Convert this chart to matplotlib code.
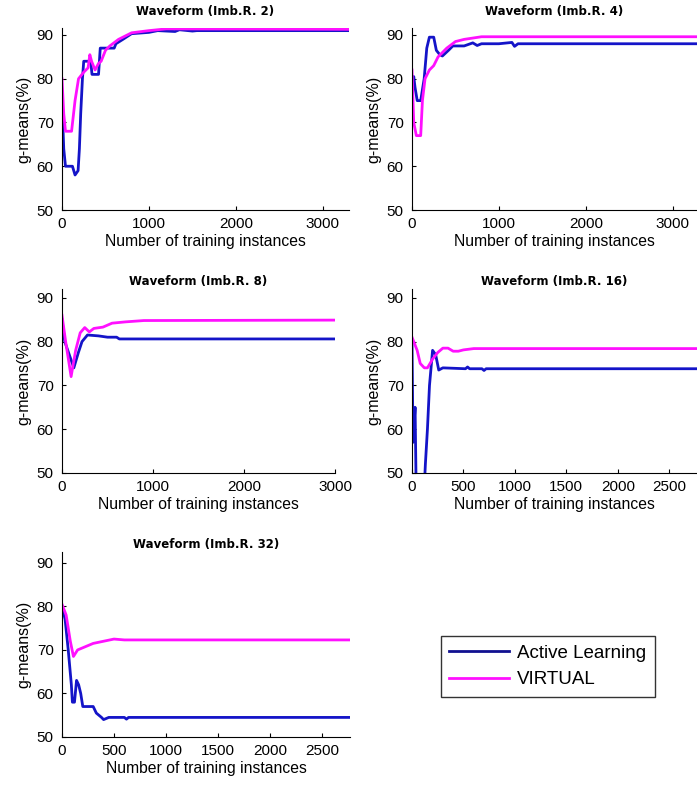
import matplotlib
matplotlib.use("Agg")
import matplotlib.pyplot as plt
from matplotlib.lines import Line2D

plt.rcParams['font.family'] = ['Liberation Sans', 'DejaVu Sans']

titles = ["Waveform (Imb.R. 2)", "Waveform (Imb.R. 4)", "Waveform (Imb.R. 8)",
          "Waveform (Imb.R. 16)", "Waveform (Imb.R. 32)"]
series_names = ["Active Learning", "VIRTUAL"]
x_limits = [3300, 3280, 3000, 2770, 2770]
y_limits = [91.6, 91.6, 92.0, 92.0, 92.5]
x_ticks = [[0, 1000, 2000, 3000], [0, 1000, 2000, 3000], [0, 1000, 2000, 3000],
           [0, 500, 1000, 1500, 2000, 2500], [0, 500, 1000, 1500, 2000, 2500]]
y_ticks = [50, 60, 70, 80, 90]

# Panel 1 : Imb.R. 2
al1_x = [0, 20, 40, 120, 150, 185, 200, 215, 235, 250, 330, 345, 420, 440, 600, 620, 700, 800, 1000, 1100, 1300, 1350, 1500, 1550, 3300]
al1_y = [75, 64, 60, 60, 58, 59, 64, 72, 80, 84, 84, 81, 81, 87, 87, 88, 89, 90.3, 90.6, 91.0, 90.8, 91.2, 90.9, 91.0, 91.0]
vi1_x = [0, 20, 40, 110, 150, 190, 250, 300, 320, 340, 380, 420, 450, 500, 550, 650, 800, 1000, 1200, 3300]
vi1_y = [80, 72, 68, 68, 75, 80, 81.5, 82.5, 85.5, 84, 82, 83.5, 84, 86.5, 87.5, 89, 90.5, 91, 91.4, 91.3]

# Panel 2 : Imb.R. 4
al2_x = [0, 20, 35, 60, 100, 140, 170, 200, 250, 280, 320, 350, 420, 470, 600, 700, 750, 800, 1000, 1150, 1180, 1220, 3280]
al2_y = [76, 80.5, 78, 75, 75, 80, 87, 89.5, 89.5, 86.5, 85.5, 85.2, 86.5, 87.5, 87.5, 88.2, 87.6, 88.0, 88.0, 88.3, 87.4, 88.0, 88.0]
vi2_x = [0, 20, 50, 100, 120, 150, 200, 250, 300, 400, 500, 600, 800, 3280]
vi2_y = [82, 70, 67, 67, 75, 80, 82, 83, 85, 87, 88.5, 89, 89.6, 89.6]

# Panel 3 : Imb.R. 8
al3_x = [0, 30, 80, 130, 180, 220, 280, 400, 500, 600, 630, 3000]
al3_y = [85, 80, 77, 74, 77.5, 80, 81.5, 81.3, 81, 81, 80.6, 80.6]
vi3_x = [0, 40, 100, 150, 200, 250, 300, 350, 450, 550, 700, 900, 3000]
vi3_y = [86, 80, 72, 78, 82, 83.2, 82.2, 83, 83.3, 84.2, 84.5, 84.8, 84.9]

# Panel 4 : Imb.R. 16
al4_x = [0, 10, 30, 40, 120, 130, 150, 170, 200, 230, 260, 300, 520, 540, 560, 680, 700, 720, 2770]
al4_y = [80, 57, 65, 47, 47, 52, 60, 70, 78, 77, 73.5, 74, 73.8, 74.2, 73.8, 73.8, 73.4, 73.8, 73.8]
vi4_x = [0, 50, 80, 120, 150, 200, 250, 300, 350, 400, 450, 500, 600, 2770]
vi4_y = [81, 78, 75, 74, 74, 76, 77.5, 78.5, 78.5, 77.8, 77.8, 78.1, 78.4, 78.4]

# Panel 5 : Imb.R. 32
al5_x = [0, 30, 60, 90, 100, 120, 140, 160, 180, 200, 300, 330, 380, 400, 450, 600, 620, 640, 2770]
al5_y = [80, 77, 70, 62, 58, 58, 63, 62, 60, 57, 57, 55.5, 54.5, 54, 54.5, 54.5, 54.1, 54.5, 54.5]
vi5_x = [0, 40, 80, 110, 150, 200, 300, 400, 500, 600, 2770]
vi5_y = [80.5, 78, 72, 68.5, 70, 70.5, 71.5, 72, 72.5, 72.3, 72.3]

al_x = [al1_x, al2_x, al3_x, al4_x, al5_x]
al_y = [al1_y, al2_y, al3_y, al4_y, al5_y]
vi_x = [vi1_x, vi2_x, vi3_x, vi4_x, vi5_x]
vi_y = [vi1_y, vi2_y, vi3_y, vi4_y, vi5_y]

blue = '#1414c8'
magenta = '#ff10ff'

W, H = 697, 785
fig = plt.figure(figsize=(W / 100, H / 100), dpi=100)

# axes boxes in pixels: left, top, right, bottom
boxes = [(62, 28, 349, 210), (412, 28, 697, 210), (62, 289, 335, 473),
         (412, 289, 697, 473), (62, 552, 350, 737)]
title_pads = [9, 9, 3, 3, 3]

for i, (l, t, r, b) in enumerate(boxes):
    ax = fig.add_axes([l / W, 1 - b / H, (r - l) / W, (b - t) / H])
    ax.plot(al_x[i], al_y[i], color=blue, lw=2.0)
    ax.plot(vi_x[i], vi_y[i], color=magenta, lw=2.0)
    ax.set_xlim(0, x_limits[i])
    ax.set_ylim(50, y_limits[i])
    ax.set_xticks(x_ticks[i])
    ax.set_yticks(y_ticks)
    ax.spines['top'].set_visible(False)
    ax.spines['right'].set_visible(False)
    ax.tick_params(direction='in', length=3, labelsize=11)
    ax.tick_params(axis='x', pad=5)
    ax.tick_params(axis='y', pad=6)
    ax.set_title(titles[i], fontsize=8.5, fontweight='bold', family='DejaVu Sans',
                 pad=title_pads[i])
    ax.set_xlabel("Number of training instances", fontsize=11.3, labelpad=2)
    ax.set_ylabel("g-means(%)", fontsize=11.5, labelpad=4)

handles = [Line2D([0], [0], color='#101090', lw=2), Line2D([0], [0], color=magenta, lw=2)]
fig.legend(handles, series_names, loc='upper left',
           bbox_to_anchor=(441 / W, 1 - 636 / H), fontsize=13.5, frameon=True,
           fancybox=False, edgecolor='black', borderpad=0.45, handlelength=3.2,
           labelspacing=0.5, handletextpad=0.4, borderaxespad=0)

fig.savefig("out.png", dpi=100)
